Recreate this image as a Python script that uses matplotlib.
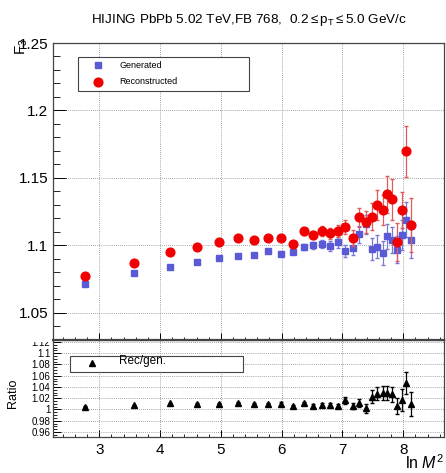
import matplotlib
matplotlib.use("Agg")
import matplotlib.pyplot as plt
from matplotlib.ticker import MultipleLocator
from matplotlib.patches import Rectangle
import numpy as np

plt.rcParams['font.family'] = ['Liberation Sans', 'DejaVu Sans']
plt.rcParams['mathtext.fontset'] = 'custom'
plt.rcParams['mathtext.rm'] = 'Liberation Sans'
plt.rcParams['mathtext.it'] = 'Liberation Sans:italic'

# ln M^2 bins
lnM2 = [2.77, 3.58, 4.16, 4.61, 4.97, 5.28, 5.55, 5.78, 5.99, 6.18, 6.36, 6.52, 6.66, 6.80,
        6.93, 7.05, 7.17, 7.28, 7.38, 7.48, 7.57, 7.66, 7.74, 7.82, 7.90, 7.98, 8.05, 8.12]

# F3 generated / reconstructed
gen = [1.0710, 1.0794, 1.0837, 1.0874, 1.0906, 1.0923, 1.0931, 1.0958, 1.0936, 1.0953,
       1.0988, 1.1000, 1.1007, 1.0995, 1.1022, 1.0960, 1.0978, 1.1080, 1.1156, 1.0973,
       1.0990, 1.0943, 1.1065, 1.1040, 1.0965, 1.1074, 1.1190, 1.1042]
gen_err = [0.0005, 0.0006, 0.0007, 0.0008, 0.0009, 0.0010, 0.0012, 0.0014, 0.0016, 0.0018,
           0.0020, 0.0025, 0.0030, 0.0035, 0.0040, 0.0045, 0.0050, 0.0060, 0.0070, 0.0080,
           0.0085, 0.0090, 0.0090, 0.0095, 0.0100, 0.0110, 0.0130, 0.0140]
rec = [1.0770, 1.0870, 1.0950, 1.0985, 1.1025, 1.1050, 1.1037, 1.1057, 1.1052, 1.1010,
       1.1104, 1.1077, 1.1104, 1.1087, 1.1104, 1.1134, 1.1054, 1.1206, 1.1171, 1.1210,
       1.1300, 1.1260, 1.1377, 1.1340, 1.1022, 1.1260, 1.1698, 1.1149]
rec_err = [0.0005, 0.0006, 0.0007, 0.0008, 0.0009, 0.0010, 0.0012, 0.0014, 0.0016, 0.0018,
           0.0025, 0.0030, 0.0035, 0.0040, 0.0045, 0.0050, 0.0060, 0.0070, 0.0080, 0.0100,
           0.0110, 0.0110, 0.0135, 0.0150, 0.0140, 0.0135, 0.0190, 0.0200]

# ratio rec/gen
ratio = [1.0050, 1.0074, 1.0110, 1.0098, 1.0103, 1.0120, 1.0098, 1.0098, 1.0103, 1.0057,
         1.0110, 1.0069, 1.0080, 1.0080, 1.0063, 1.0160, 1.0063, 1.0120, 1.0023, 1.0230,
         1.0280, 1.0290, 1.0290, 1.0270, 1.0057, 1.0170, 1.0466, 1.0098]
ratio_err = [0.0008, 0.0010, 0.0012, 0.0013, 0.0015, 0.0017, 0.0020, 0.0020, 0.0022, 0.0025,
             0.0030, 0.0030, 0.0035, 0.0040, 0.0040, 0.0060, 0.0060, 0.0070, 0.0080, 0.0110,
             0.0120, 0.0130, 0.0130, 0.0130, 0.0140, 0.0200, 0.0200, 0.0220]

W, H = 446, 473
fig = plt.figure(figsize=(W/100, H/100), dpi=100)

def fx(px):
    return px / W

def fy(py):
    return 1 - py / H

ax2 = fig.add_axes([fx(53), fy(437), fx(444) - fx(53), fy(340) - fy(437)])
ax1 = fig.add_axes([fx(53), fy(340), fx(444) - fx(53), fy(43) - fy(340)])

blue = '#5a5ad6'
red = '#f00000'

ax1.errorbar(lnM2, gen, yerr=gen_err, fmt='s', color=blue, ms=5, mec=blue,
             ecolor='#7a7ad6', elinewidth=0.9, capsize=1.3, zorder=3)
ax1.errorbar(lnM2, rec, yerr=rec_err, fmt='o', color=red, ms=6.3, mec=red,
             ecolor='#e05a5a', elinewidth=0.9, capsize=1.3, zorder=4)

ax2.errorbar(lnM2, ratio, yerr=ratio_err, fmt='^', color='black', ms=4.5,
             elinewidth=0.9, capsize=1.3, zorder=3)

for ax in (ax1, ax2):
    ax.set_xlim(2.24, 8.67)
    ax.xaxis.set_major_locator(MultipleLocator(1))
    ax.xaxis.set_minor_locator(MultipleLocator(0.2))
    ax.grid(True, which='major', ls=(0, (1, 1.5)), color='#888888', lw=0.6)
    ax.tick_params(which='both', direction='in', top=False, right=False)
    ax.tick_params(which='major', length=5, width=0.7)
    ax.tick_params(which='minor', length=2.5, width=0.6)
    for s in ax.spines.values():
        s.set_color('#444444')
        s.set_linewidth(0.9)

ax1.set_ylim(1.0297, 1.25)
ax1.yaxis.set_minor_locator(MultipleLocator(0.01))
ax1.set_yticks([1.05, 1.1, 1.15, 1.2, 1.25])
ax1.set_yticklabels(['1.05', '1.1', '1.15', '1.2', '1.25'], fontsize=11)
ax1.tick_params(axis='x', labelbottom=False)
ax1.tick_params(axis='y', which='major', length=9)
ax1.tick_params(axis='y', which='minor', length=5)
ax1.spines['bottom'].set_linewidth(1.6)

ax2.set_ylim(0.951, 1.1235)
ax2.set_yticks([0.96, 0.98, 1.0, 1.02, 1.04, 1.06, 1.08, 1.1, 1.12])
ax2.set_yticklabels(['0.96', '0.98', '1', '1.02', '1.04', '1.06', '1.08', '1.1', '1.12'],
                    fontsize=7)
ax2.yaxis.set_minor_locator(MultipleLocator(0.005))
ax2.tick_params(axis='y', which='major', length=6, pad=2)
ax2.tick_params(axis='y', which='minor', length=3)
ax2.tick_params(axis='x', labelsize=11, pad=4)
ax2.spines['top'].set_linewidth(1.6)

# the upper pad overlaps the top of the "1.12" label
fig.add_artist(Rectangle((0, fy(342)), fx(52), fy(330) - fy(342), transform=fig.transFigure,
                         facecolor='white', edgecolor='none', zorder=10))

# legends
ax1.add_patch(Rectangle((fx(78), fy(91)), fx(249) - fx(78), fy(57) - fy(91),
                        transform=fig.transFigure, facecolor='white', edgecolor='#444444',
                        lw=0.8, zorder=5, clip_on=False))
ax1.plot([fx(98)], [fy(65.5)], 's', color=blue, ms=5, transform=fig.transFigure,
         zorder=6, clip_on=False)
ax1.plot([fx(98)], [fy(81.5)], 'o', color=red, ms=6.3, transform=fig.transFigure,
         zorder=6, clip_on=False)
fig.text(fx(119), fy(65.5), 'Generated', fontsize=6.5, va='center', ha='left', zorder=7)
fig.text(fx(119), fy(81.5), 'Reconstructed', fontsize=6.5, va='center', ha='left', zorder=7)

ax2.add_patch(Rectangle((fx(70), fy(371.5)), fx(243) - fx(70), fy(356) - fy(371.5),
                        transform=fig.transFigure, facecolor='white', edgecolor='#444444',
                        lw=0.8, zorder=5, clip_on=False))
ax2.plot([fx(92)], [fy(363)], '^', color='black', ms=4.5, transform=fig.transFigure,
         zorder=6, clip_on=False)
fig.text(fx(119), fy(361), 'Rec/gen.', fontsize=8.5, va='center', ha='left', zorder=7)

# titles / labels
fig.text(fx(249), fy(20), r'HIJING PbPb 5.02 TeV,FB 768,  0.2$\leq$p$_{\rm T}$$\leq$5.0 GeV/c',
         fontsize=9.7, ha='center', va='center')
fig.text(fx(22), fy(38), r'F$_3$', fontsize=11, rotation=90, ha='center', va='top')
fig.text(fx(13), fy(393), 'Ratio', fontsize=9, rotation=90, ha='center', va='center')
fig.text(fx(444), fy(463), r'ln $M^2$', fontsize=11.5, ha='right', va='center')

plt.savefig('out.png', dpi=100)
